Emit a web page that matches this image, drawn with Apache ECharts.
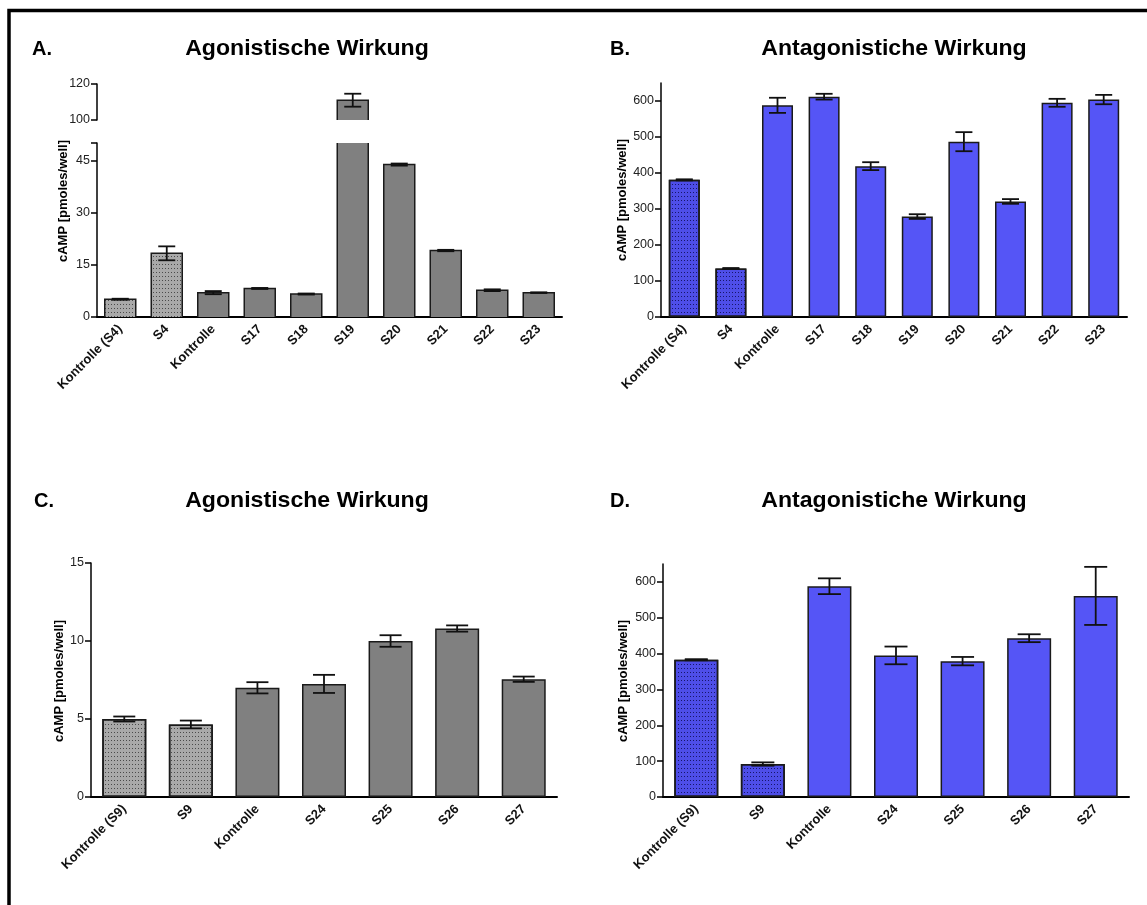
<!DOCTYPE html>
<html>
<head>
<meta charset="utf-8">
<script src="https://cdn.jsdelivr.net/npm/echarts@6/dist/echarts.min.js"></script>
<style>
  html, body { margin: 0; padding: 0; background: #fff; }
  #chart { width: 1147px; height: 905px; }
</style>
</head>
<body>
<div id="chart"></div>
<script>
const FONT = '"Liberation Sans", Arial, Helvetica, sans-serif';

// Panels A and B: compounds S17–S23 with S4 reference pair
const catsAB = ['Kontrolle (S4)', 'S4', 'Kontrolle', 'S17', 'S18', 'S19', 'S20', 'S21', 'S22', 'S23'];
const meanA = [5.1, 18.3, 7.0, 8.2, 6.6, 111.0, 43.8, 19.1, 7.7, 7.0];
const semA  = [0.15, 2.0, 0.45, 0.15, 0.15, 3.6, 0.3, 0.2, 0.25, 0.1];
const meanB = [381, 135, 588, 612, 419, 279, 487, 321, 595, 604];
const semB  = [1.5, 1, 21, 8, 11, 6.5, 26.5, 6.5, 11, 13];

// Panels C and D: compounds S24–S27 with S9 reference pair
const catsCD = ['Kontrolle (S9)', 'S9', 'Kontrolle', 'S24', 'S25', 'S26', 'S27'];
const meanC = [5.0, 4.65, 7.0, 7.25, 10.0, 10.8, 7.55];
const semC  = [0.16, 0.25, 0.36, 0.58, 0.37, 0.2, 0.17];
const meanD = [383, 92, 588, 395, 379, 443, 561];
const semD  = [1.5, 4.6, 22, 24.7, 11.7, 11, 81];

// Tick values per axis (panel A has a broken axis: 0–50 and 100–120)
const ticksALow  = [0, 15, 30, 45];
const ticksAHigh = [100, 120];
const ticksB = [0, 100, 200, 300, 400, 500, 600];
const ticksC = [0, 5, 10, 15];
const ticksD = [0, 100, 200, 300, 400, 500, 600];

const titles = ['Agonistische Wirkung', 'Antagonistiche Wirkung', 'Agonistische Wirkung', 'Antagonistiche Wirkung'];
const letters = ['A.', 'B.', 'C.', 'D.'];
const yName = 'cAMP [pmoles/well]';

const GRAY = '#808080', GRAY_REF = '#a9a9a9';
const BLUE = '#5555f6', BLUE_REF = '#4e4ee8';
const EDGE = '#1a1a1a';

function catAxis(grid, cats, show) {
  return {
    type: 'category', gridIndex: grid, data: cats, boundaryGap: true, show: show,
    axisLine: { show: true, lineStyle: { color: '#000', width: 2 } },
    axisTick: { show: false },
    axisLabel: { interval: 0, rotate: 45, margin: 10, fontFamily: FONT, fontWeight: 'bold', fontSize: 13, color: '#111' }
  };
}

function valAxis(grid, min, max, tickVals, labelVals) {
  return {
    type: 'value', gridIndex: grid, min: min, max: max,
    splitLine: { show: false },
    axisLine: { show: true, lineStyle: { color: '#000', width: 1.5 } },
    axisTick: { show: true, length: 6, customValues: tickVals, lineStyle: { color: '#000', width: 1.5 } },
    axisLabel: { customValues: labelVals, margin: 7, fontFamily: FONT, fontSize: 12.5, color: '#222' }
  };
}

function dots(color) {
  return { symbol: 'rect', symbolSize: 1, color: color, dashArrayX: [1, 2], dashArrayY: [1, 3], rotation: 0 };
}

// Bar fills; the two reference bars get a stippled fill
function barFill(ax, means, base, refBase, dotColor, width, withBorder) {
  return {
    type: 'bar', xAxisIndex: ax, yAxisIndex: ax, barWidth: width, clip: true,
    silent: true, animation: false,
    itemStyle: { color: base, borderColor: EDGE, borderWidth: withBorder ? 1.5 : 0 },
    data: means.map((v, i) => i < 2
      ? { value: v, itemStyle: { color: refBase, decal: dots(dotColor) } }
      : v)
  };
}

// Bar outlines for the broken axis: edges that fall at an axis break are left open
function barEdges(ax, means, lo, hi, width) {
  return {
    type: 'custom', xAxisIndex: ax, yAxisIndex: ax, silent: true, animation: false, z: 4,
    encode: { x: 0, y: 1 },
    data: means.map((m, i) => [i, m]),
    renderItem(params, api) {
      const i = api.value(0), m = api.value(1);
      if (m <= lo) return null;
      const base = api.coord([i, Math.max(0, lo)]);
      const top = api.coord([i, Math.min(m, hi)]);
      const x0 = base[0] - width / 2, x1 = base[0] + width / 2;
      const st = { stroke: EDGE, lineWidth: 1.5, fill: null };
      if (m <= hi) {
        return { type: 'polyline', shape: { points: [[x0, base[1]], [x0, top[1]], [x1, top[1]], [x1, base[1]]] }, style: st };
      }
      return {
        type: 'group', children: [
          { type: 'line', shape: { x1: x0, y1: base[1], x2: x0, y2: top[1] }, style: st },
          { type: 'line', shape: { x1: x1, y1: base[1], x2: x1, y2: top[1] }, style: st }
        ]
      };
    }
  };
}

// Mean ± SEM error bars
function errBars(ax, means, sems, cap, lo, hi) {
  return {
    type: 'custom', xAxisIndex: ax, yAxisIndex: ax, silent: true, animation: false, z: 5,
    encode: { x: 0, y: 1 },
    data: means.map((m, i) => [i, m, sems[i]]),
    renderItem(params, api) {
      const i = api.value(0), m = api.value(1), e = api.value(2);
      if (m < lo || m > hi) return null;
      const t = api.coord([i, m + e]);
      const b = api.coord([i, m - e]);
      const x = t[0];
      const st = { stroke: '#111', lineWidth: 1.8 };
      return {
        type: 'group', children: [
          { type: 'line', shape: { x1: x, y1: t[1], x2: x, y2: b[1] }, style: st },
          { type: 'line', shape: { x1: x - cap / 2, y1: t[1], x2: x + cap / 2, y2: t[1] }, style: st },
          { type: 'line', shape: { x1: x - cap / 2, y1: b[1], x2: x + cap / 2, y2: b[1] }, style: st }
        ]
      };
    }
  };
}

function text(x, y, str, size, align, rotation, scaleX) {
  return {
    type: 'text', x: x, y: y, rotation: rotation || 0, scaleX: scaleX || 1, silent: true,
    style: {
      text: str, fontFamily: FONT, fontWeight: 'bold', fontSize: size, fill: '#000',
      align: align, textAlign: align, verticalAlign: 'middle', textVerticalAlign: 'middle'
    }
  };
}

const option = {
  backgroundColor: '#fff',
  animation: false,
  grid: [
    { left: 97, top: 143, width: 465, height: 174 },   // A, lower segment 0–50
    { left: 97, top: 84, width: 465, height: 36 },     // A, upper segment 100–120
    { left: 661, top: 83, width: 466, height: 234 },   // B
    { left: 91, top: 563, width: 466, height: 234 },   // C
    { left: 663, top: 564, width: 466, height: 233 }   // D
  ],
  xAxis: [
    catAxis(0, catsAB, true),
    catAxis(1, catsAB, false),
    catAxis(2, catsAB, true),
    catAxis(3, catsCD, true),
    catAxis(4, catsCD, true)
  ],
  yAxis: [
    valAxis(0, 0, 50, ticksALow.concat([50]), ticksALow),
    valAxis(1, 100, 120, ticksAHigh, ticksAHigh),
    valAxis(2, 0, 650, ticksB, ticksB),
    valAxis(3, 0, 15, ticksC, ticksC),
    valAxis(4, 0, 650, ticksD, ticksD)
  ],
  series: [
    // A: fills in both segments, then open-ended outlines and error bars
    barFill(0, meanA, GRAY, GRAY_REF, '#4a4a4a', 31, false),
    barFill(1, meanA.map(v => v > 100 ? v : '-'), GRAY, GRAY_REF, '#4a4a4a', 31, false),
    barEdges(0, meanA, 0, 50, 31),
    barEdges(1, meanA, 100, 120, 31),
    errBars(0, meanA, semA, 17, 0, 50),
    errBars(1, meanA, semA, 17, 100, 120),
    // B
    barFill(2, meanB, BLUE, BLUE_REF, '#16166a', 31, true),
    errBars(2, meanB, semB, 17, 0, 650),
    // C
    barFill(3, meanC, GRAY, GRAY_REF, '#4a4a4a', 44, true),
    errBars(3, meanC, semC, 22, 0, 15),
    // D
    barFill(4, meanD, BLUE, BLUE_REF, '#16166a', 44, true),
    errBars(4, meanD, semD, 23, 0, 650)
  ],
  graphic: [
    { type: 'rect', silent: true, shape: { x: 9, y: 10.5, width: 1300, height: 1100 },
      style: { fill: null, stroke: '#000', lineWidth: 3.5 } },
    text(32, 49, letters[0], 20, 'left'),
    text(610, 49, letters[1], 20, 'left'),
    text(34, 501, letters[2], 20, 'left'),
    text(610, 501, letters[3], 20, 'left'),
    text(307, 49, titles[0], 22, 'center', 0, 1.05),
    text(894, 49, titles[1], 22, 'center', 0, 1.05),
    text(307, 501, titles[2], 22, 'center', 0, 1.05),
    text(894, 501, titles[3], 22, 'center', 0, 1.05),
    text(63, 201, yName, 13, 'center', Math.PI / 2),
    text(622, 200, yName, 13, 'center', Math.PI / 2),
    text(59, 681, yName, 13, 'center', Math.PI / 2),
    text(623, 681, yName, 13, 'center', Math.PI / 2)
  ]
};

const chart = echarts.init(document.getElementById('chart'), null, { renderer: 'canvas' });
chart.setOption(option);
</script>
</body>
</html>
